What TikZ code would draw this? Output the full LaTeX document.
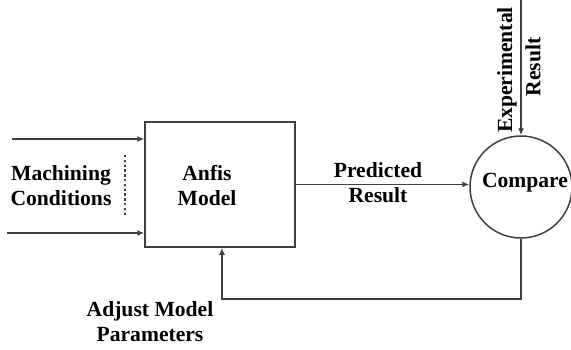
\documentclass[tikz,border=0pt]{standalone}
\usepackage{fontspec}
\setmainfont{Liberation Serif}
\newfontfamily\figfont{Liberation Serif}
\usetikzlibrary{arrows.meta}
\begin{document}
\begin{tikzpicture}[x=0.5pt,y=-0.5pt,
  font=\figfont\fontsize{10.8}{12.5}\selectfont\bfseries,
  ln/.style={draw=black!75, line width=0.75pt},
  >={Latex[length=3.5pt,width=3pt]}]
\useasboundingbox (0,0) rectangle (571,349);
\node[ln, minimum width=75pt, minimum height=62.5pt] (anfis) at (220,184.5){};
\node[align=center] (anfistxt) at (207,185){Anfis\\Model};
\node[ln, circle, minimum size=51pt, inner sep=0pt] (cmp) at (521,187){};
\node (cmptxt) at (525,183){Compare};
\coordinate (in1) at (12,139);
\coordinate (in2) at (7,233);
\draw[ln,->](in1) -- (anfis.west |- in1);
\draw[ln,->](in2) -- (anfis.west |- in2);
\node[align=center] (mc) at (61,186){Machining\\Conditions};
\coordinate (d1) at (125,155);
\coordinate (d2) at (125,215);
\draw[ln,dash pattern=on 1.2pt off 1.2pt](d1) -- (d2);
\draw[ln,->](anfis.east) -- (anfis.east -| cmp.west);
\node[align=center] (pr) at (378,183){Predicted\\Result};
\coordinate (ex) at (521,0);
\draw[ln,->](ex) -- (cmp.north);
\node[rotate=90] (ext) at (507,70){Experimental};
\node[rotate=90] (rst) at (533,67){Result};
\coordinate (fb) at (222,299);
\draw[ln,->](cmp.south) |- (fb) -- (fb |- anfis.south);
\node[align=center] (adj) at (150,322){Adjust Model\\Parameters};

\end{tikzpicture}
\end{document}
